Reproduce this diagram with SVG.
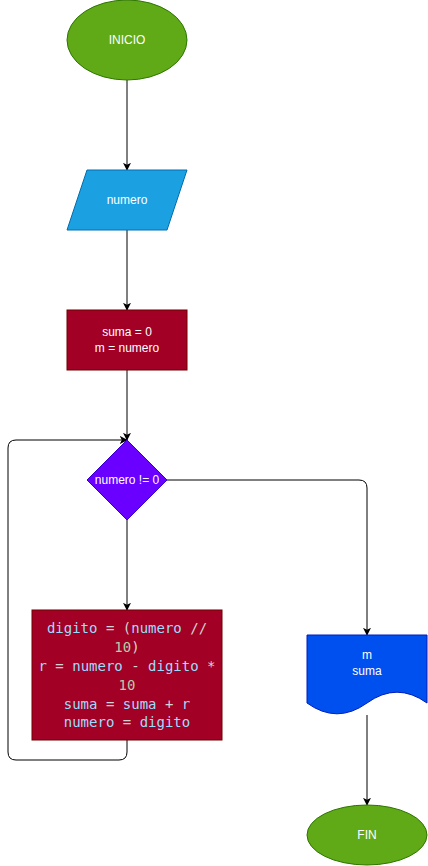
<svg xmlns="http://www.w3.org/2000/svg" width="428" height="866" viewBox="0 0 428 866">
<style>
.lbl{font-family:"Liberation Sans",Arial,sans-serif;font-size:12px;fill:#ffffff;text-anchor:middle;dominant-baseline:central}
.code{font-family:"DejaVu Sans Mono",monospace;font-size:14px;text-anchor:middle;dominant-baseline:central;fill:#d4d4d4}
.v{fill:#9cdcfe}
.n{fill:#b5cea8}
.edge{fill:none;stroke:#000000;stroke-width:1}
</style>
<defs>
<marker id="arr" viewBox="0 0 10 10" refX="9" refY="5" markerWidth="8" markerHeight="8" markerUnits="userSpaceOnUse" orient="auto">
<path d="M0,0 L10,5 L0,10 L2.5,5 Z" fill="#000000"/>
</marker>
</defs>
<g id="connectors">
<path class="edge" d="M127,80 V170" marker-end="url(#arr)"/>
<path class="edge" d="M127,230 V310" marker-end="url(#arr)"/>
<path class="edge" d="M127,370 V440" marker-end="url(#arr)"/>
<path class="edge" d="M127,520 V610" marker-end="url(#arr)"/>
<path class="edge" d="M127,740 V752 Q127,760 119,760 H16 Q8,760 8,752 V448 Q8,440 16,440 H127" marker-end="url(#arr)"/>
<path class="edge" d="M167,480 H359 Q367,480 367,488 V635" marker-end="url(#arr)"/>
<path class="edge" d="M367,715 V805" marker-end="url(#arr)"/>
</g>
<g id="inicio">
<ellipse cx="127" cy="40" rx="60" ry="40" fill="#60a917" stroke="#2d7600"/>
<text class="lbl" x="127" y="40">INICIO</text>
</g>
<g id="input-numero">
<polygon points="87,170 187,170 167,230 67,230" fill="#1ba1e2" stroke="#006eaf"/>
<text class="lbl" x="127" y="200">numero</text>
</g>
<g id="init">
<rect x="67" y="310" width="120" height="60" fill="#a20025" stroke="#6f0000"/>
<text class="lbl" x="127" y="332">suma = 0</text>
<text class="lbl" x="127" y="348">m = numero</text>
</g>
<g id="decision">
<polygon points="127,440 167,480 127,520 87,480" fill="#6a00ff" stroke="#3700cc"/>
<text class="lbl" x="127" y="480">numero != 0</text>
</g>
<g id="loop-body">
<rect x="32" y="610" width="190" height="130" fill="#a20025" stroke="#6f0000"/>
<text class="code" x="127" y="628"><tspan class="v">digito</tspan> = (<tspan class="v">numero</tspan> //</text>
<text class="code" x="127" y="647"><tspan class="n">10</tspan>)</text>
<text class="code" x="127" y="666"><tspan class="v">r</tspan> = <tspan class="v">numero</tspan> - <tspan class="v">digito</tspan> *</text>
<text class="code" x="127" y="685"><tspan class="n">10</tspan></text>
<text class="code" x="127" y="704"><tspan class="v">suma</tspan> = <tspan class="v">suma</tspan> + <tspan class="v">r</tspan></text>
<text class="code" x="127" y="722"><tspan class="v">numero</tspan> = <tspan class="v">digito</tspan></text>
</g>
<g id="output">
<path d="M307,635 H427 V703 Q397,681.4 367,703 Q337,724.6 307,703 Z" fill="#0050ef" stroke="#001dbc"/>
<text class="lbl" x="367" y="655">m</text>
<text class="lbl" x="367" y="671">suma</text>
</g>
<g id="fin">
<ellipse cx="367" cy="835" rx="60" ry="30" fill="#60a917" stroke="#2d7600"/>
<text class="lbl" x="367" y="835">FIN</text>
</g>
</svg>
